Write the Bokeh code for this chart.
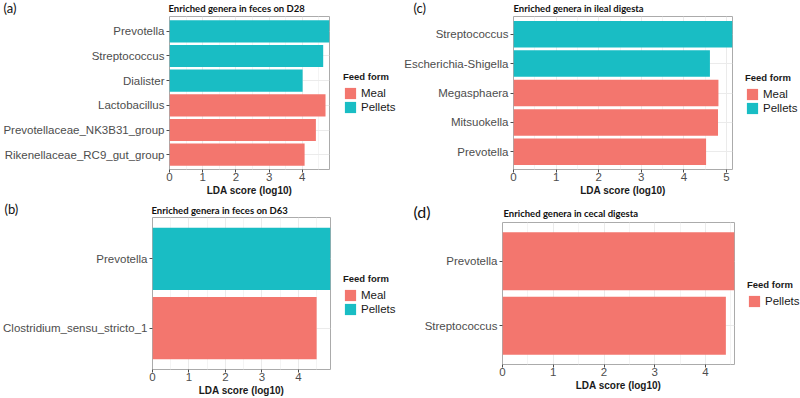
from bokeh.plotting import figure
from bokeh.models import FactorRange, Range1d, FixedTicker, Legend, LegendItem, Label
from bokeh.layouts import column, row
from bokeh.embed import file_html
from bokeh.resources import INLINE

# ---------------- data ----------------
a_genera = ["Prevotella", "Streptococcus", "Dialister", "Lactobacillus",
            "Prevotellaceae_NK3B31_group", "Rikenellaceae_RC9_gut_group"]
a_lda = [4.82, 4.63, 4.01, 4.70, 4.41, 4.07]
a_form = ["Pellets", "Pellets", "Pellets", "Meal", "Meal", "Meal"]
a_ticks = [0, 1, 2, 3, 4]

b_genera = ["Prevotella", "Clostridium_sensu_stricto_1"]
b_lda = [4.88, 4.50]
b_form = ["Pellets", "Meal"]
b_ticks = [0, 1, 2, 3, 4]

c_genera = ["Streptococcus", "Escherichia-Shigella", "Megasphaera", "Mitsuokella", "Prevotella"]
c_lda = [5.14, 4.61, 4.81, 4.80, 4.52]
c_form = ["Pellets", "Pellets", "Meal", "Meal", "Meal"]
c_ticks = [0, 1, 2, 3, 4, 5]

d_genera = ["Prevotella", "Streptococcus"]
d_lda = [4.57, 4.40]
d_form = ["Pellets", "Pellets"]
d_ticks = [0, 1, 2, 3, 4]

titles = ["Enriched genera in feces on D28", "Enriched genera in feces on D63",
          "Enriched genera in ileal digesta", "Enriched genera in cecal digesta"]
tags = ["(a)", "(b)", "(c)", "(d)"]
x_label = "LDA score (log10)"
legend_title = "Feed form"

palette = ["#F3766E", "#19BDC4"]
TICK_COLOR = "#4D4D4D"


def blank(W, H):
    f = figure(width=W, height=H, output_backend="svg", toolbar_location=None,
               x_axis_type=None, y_axis_type=None,
               x_range=Range1d(0, 1), y_range=Range1d(0, 1),
               min_border_left=0, min_border_right=0,
               min_border_top=0, min_border_bottom=0)
    f.outline_line_color = None
    f.background_fill_color = "white"
    f.border_fill_color = "white"
    return f


def make_header(W, hh, title, tag, title_xy, tag_xy, tag_size):
    h = blank(W, hh)
    tx, ty = title_xy
    h.add_layout(Label(x=tx, y=ty, x_units="screen", y_units="screen",
                       text=title, text_font="Lato", text_font_style="bold",
                       text_font_size="9.5px", text_color="#111111",
                       text_baseline="middle", text_align="left"))
    gx, gy = tag_xy
    h.add_layout(Label(x=gx, y=gy, x_units="screen", y_units="screen",
                       text=tag, text_font="Lato", text_font_size=tag_size,
                       text_color="#111111",
                       text_baseline="middle", text_align="left"))
    return h


def make_panel(genera, lda, form, ticks, W, H, bl, bb):
    factors = list(reversed(genera))
    p = figure(width=W, height=H, output_backend="svg", toolbar_location=None,
               y_range=FactorRange(factors=factors, range_padding=0.1,
                                   range_padding_units="absolute"),
               x_range=Range1d(0, max(lda)),
               min_border_left=bl, min_border_right=1,
               min_border_top=1, min_border_bottom=bb)
    p.background_fill_color = "white"
    p.border_fill_color = "white"
    p.outline_line_color = "#ABABAB"
    p.outline_line_width = 1

    minor = [t + 0.5 for t in ticks]
    p.xaxis.ticker = FixedTicker(ticks=ticks, minor_ticks=minor)
    p.xgrid.grid_line_color = "#EBEBEB"
    p.xgrid.minor_grid_line_color = "#F4F4F4"
    p.ygrid.grid_line_color = "#EBEBEB"

    for ax in (p.xaxis[0], p.yaxis[0]):
        ax.axis_line_color = None
        ax.major_tick_out = 3
        ax.major_tick_in = 0
        ax.minor_tick_out = 0
        ax.minor_tick_in = 0
        ax.major_tick_line_color = TICK_COLOR
        ax.major_label_text_color = TICK_COLOR
        ax.major_label_text_font = "Liberation Sans"
    p.xaxis.major_label_text_font_size = "11.5px"
    p.xaxis.major_label_standoff = 0
    p.yaxis.major_label_text_font_size = "11.5px"
    p.yaxis.major_label_standoff = 2
    p.xaxis.axis_label = x_label
    p.xaxis.axis_label_text_font = "Liberation Sans"
    p.xaxis.axis_label_text_font_style = "bold"
    p.xaxis.axis_label_text_font_size = "10px"
    p.xaxis.axis_label_text_color = "#1A1A1A"
    p.xaxis.axis_label_standoff = 1

    levels = sorted(set(form))
    for i, lev in enumerate(levels):
        ys = [g for g, f in zip(genera, form) if f == lev]
        xs = [v for v, f in zip(lda, form) if f == lev]
        p.hbar(y=ys, right=xs, left=0, height=0.9,
               fill_color=palette[i], line_color=None)
    return p, levels


def make_legend(levels, W, H, lx, ly):
    f = blank(W, H)
    items = []
    for i, lev in enumerate(levels):
        # legend proxy: a zero-length bar placed outside the visible range
        r = f.hbar(y=[-1.0], right=[0.0], left=0, height=0.9,
                   fill_color=palette[i], line_color=None)
        items.append(LegendItem(label=lev, renderers=[r]))
    leg = Legend(items=items, location=(lx, ly),
                 title=legend_title, title_text_font="Liberation Sans",
                 title_text_font_style="bold", title_text_font_size="9.5px",
                 title_text_color="#1A1A1A", title_standoff=4,
                 label_text_font="Liberation Sans", label_text_font_size="11.5px",
                 label_text_color="#1A1A1A",
                 glyph_width=14, glyph_height=14, label_height=14,
                 label_standoff=4, spacing=0, padding=0, margin=0,
                 border_line_color=None, background_fill_alpha=0)
    f.add_layout(leg, "center")
    return f


def quadrant(genera, lda, form, ticks, title, tag, H, hh, frame_left, frame_right,
             bb, title_xy, tag_xy, tag_size, leg_dx, leg_y):
    header = make_header(400, hh, title, tag, title_xy, tag_xy, tag_size)
    main_w = frame_right + 1
    p, levels = make_panel(genera, lda, form, ticks, main_w, H - hh, frame_left, bb)
    lg = make_legend(levels, 400 - main_w, H - hh, leg_dx - 1, leg_y)
    return column(header, row(p, lg))


qa = quadrant(a_genera, a_lda, a_form, a_ticks, titles[0], tags[0],
              200, 15, 167, 329, 31, (168, 7), (3, 7.5), "13px", 14, 55)
qc = quadrant(c_genera, c_lda, c_form, c_ticks, titles[2], tags[2],
              200, 15, 113, 332, 31, (113, 7), (13, 7.5), "13px", 13, 54)
qb = quadrant(b_genera, b_lda, b_form, b_ticks, titles[1], tags[1],
              198, 16, 151, 330, 29, (151, 6), (4, 8), "13px", 13, 53)
qd = quadrant(d_genera, d_lda, d_form, d_ticks, titles[3], tags[3],
              198, 21, 102, 334, 34, (103, 8), (13, 10.5), "16px", 13, 56)

layout = column(row(qa, qc), row(qb, qd))
open("out.html", "w").write(file_html(layout, INLINE))
